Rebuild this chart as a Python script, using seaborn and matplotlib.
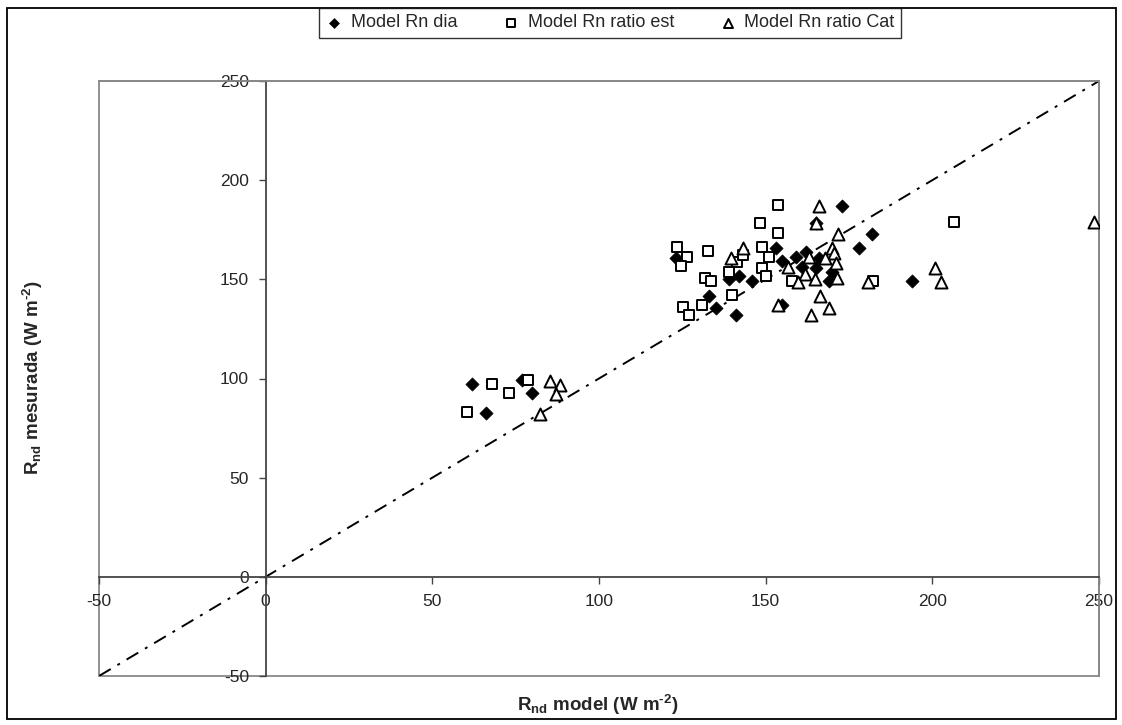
import matplotlib
matplotlib.use("Agg")
import matplotlib.pyplot as plt
from matplotlib.patches import Rectangle
import seaborn as sns
import pandas as pd

# Modelled net radiation (x) vs measured (y), W m-2
dia_model = [62, 66, 77, 80, 123, 133, 135, 141, 139, 142, 146, 153, 155, 155,
             159, 162, 161, 166, 165, 173, 170, 169, 178, 182, 194, 165]
dia_meas = [97, 82.5, 99, 92.5, 161, 141.5, 135.5, 132, 150, 151.5, 149, 166, 159, 137,
            161.5, 164, 156, 161, 155.5, 187, 153.5, 149, 166, 173, 149, 178.5]

est_model = [60.5, 68, 73, 78.7, 123.4, 126.5, 124.6, 132.7, 131.8, 133.7, 138.9,
             141.3, 143.1, 131.0, 139.9, 125.1, 126.9, 153.7, 148.3, 153.7, 148.8,
             151.0, 148.8, 150.1, 157.9, 182.1, 206.4]
est_meas = [83, 97, 92.6, 99, 166.5, 161.3, 156.8, 164.3, 150.8, 149.2, 153.9,
            158.9, 162.1, 137.3, 142.1, 135.8, 132.2, 187.4, 178.5, 173.2, 166.3,
            161.3, 155.9, 151.6, 149.4, 149.2, 179.0]

cat_model = [85.2, 88.4, 87.0, 82.2, 139.6, 143.3, 165.9, 165.1, 171.7, 169.9, 170.5,
             162.9, 167.9, 171.0, 156.6, 161.9, 164.7, 171.3, 159.7, 180.7, 200.8,
             202.5, 166.4, 153.6, 169.0, 163.7, 248.4]
cat_meas = [98.6, 96.6, 92.0, 82.3, 160.7, 166.0, 186.9, 178.2, 172.7, 166.0, 163.5,
            161.3, 160.6, 158.4, 156.3, 152.9, 150.4, 150.8, 148.7, 148.7, 155.6,
            148.7, 141.4, 137.0, 135.5, 131.8, 178.9]

series_names = ["Model Rn dia", "Model Rn ratio est", "Model Rn ratio Cat"]
identity = [-50, 250]
ticks = [-50, 0, 50, 100, 150, 200, 250]

sns.set_style("white")
plt.rcParams["font.family"] = ["Liberation Sans", "DejaVu Sans"]
plt.rcParams["axes.unicode_minus"] = False
plt.rcParams["mathtext.fontset"] = "custom"
plt.rcParams["mathtext.bf"] = "Liberation Sans:bold"
plt.rcParams["mathtext.rm"] = "Liberation Sans:bold"
plt.rcParams["mathtext.default"] = "bf"

fig = plt.figure(figsize=(11.22, 7.25), dpi=100)
ax = fig.add_axes([99 / 1122, 1 - 676 / 725, 1000 / 1122, 595 / 725])

# 1:1 line
ax.plot(identity, identity, color="black", lw=1.4, linestyle=(0, (7, 4, 1.5, 4)), zorder=1)

df_dia = pd.DataFrame({"x": dia_model, "y": dia_meas})
df_est = pd.DataFrame({"x": est_model, "y": est_meas})
df_cat = pd.DataFrame({"x": cat_model, "y": cat_meas})

sns.scatterplot(data=df_dia, x="x", y="y", ax=ax, marker="D", s=45,
                color="black", edgecolor="black", linewidth=0.5,
                label=series_names[0], zorder=3)
sns.scatterplot(data=df_est, x="x", y="y", ax=ax, marker="s", s=60,
                color="white", edgecolor="black", linewidth=1.4,
                label=series_names[1], zorder=3)
sns.scatterplot(data=df_cat, x="x", y="y", ax=ax, marker="^", s=75,
                color="white", edgecolor="black", linewidth=1.4,
                label=series_names[2], zorder=3)

ax.set_xlim(-50, 250)
ax.set_ylim(-50, 250)
ax.set_xticks(ticks)
ax.set_yticks(ticks)
ax.set_xticklabels([str(t) for t in ticks])
ax.set_yticklabels([str(t) for t in ticks])

# Axes cross at the origin; outer box kept in grey
for side in ("left", "bottom"):
    ax.spines[side].set_position(("data", 0))
    ax.spines[side].set_color("#444444")
    ax.spines[side].set_linewidth(1.3)
for side in ("top", "right"):
    ax.spines[side].set_color("#888888")
    ax.spines[side].set_linewidth(1.3)
ax.add_patch(Rectangle((0, 0), 1, 1, transform=ax.transAxes, fill=False,
                       edgecolor="#888888", linewidth=1.3, zorder=0, clip_on=False))

ax.tick_params(axis="both", direction="out", length=5, width=1, color="#444444",
               labelsize=12.5, pad=7, left=True, bottom=True)
ax.set_xlabel("")
ax.set_ylabel("")

fig.text(598 / 1122, 1 - 705 / 725, r"R$_{nd}$ model (W m$^{\text{-}2}$)",
         ha="center", va="center", fontsize=13.5, fontweight="bold")
fig.text(33 / 1122, 1 - 378 / 725, r"R$_{nd}$ mesurada (W m$^{\text{-}2}$)",
         ha="center", va="center", rotation=90, fontsize=13.5, fontweight="bold")

ax.get_legend().remove()
handles, labels = ax.get_legend_handles_labels()
leg = fig.legend(handles, labels, loc="upper center", ncol=3,
                 bbox_to_anchor=(610 / 1122, 1 - 8 / 725), borderaxespad=0,
                 frameon=True, fancybox=False, fontsize=13, handletextpad=0.4,
                 columnspacing=2.5, handlelength=1.0, borderpad=0.35,
                 markerscale=0.75)
leg.get_frame().set_edgecolor("black")
leg.get_frame().set_linewidth(1.0)

fig.patches.append(Rectangle((7 / 1122, 1 - 719 / 725), 1109 / 1122, 711 / 725,
                             transform=fig.transFigure, fill=False,
                             edgecolor="black", linewidth=1.3))

fig.savefig("out.png", dpi=100)
